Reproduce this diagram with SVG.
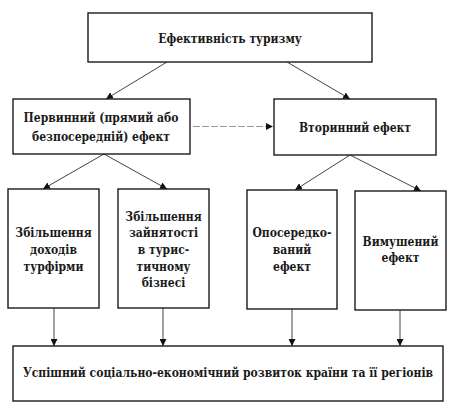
<svg xmlns="http://www.w3.org/2000/svg" width="452" height="414" viewBox="0 0 452 414">
<style>
.box{fill:#fff;stroke:#1a1a1a;stroke-width:1.4}
.t{font-family:"DejaVu Serif Condensed","DejaVu Serif",serif;font-stretch:condensed;font-weight:bold;font-size:12px;fill:#1a1a1a;text-anchor:middle}
.c{stroke:#444;stroke-width:1;fill:none;marker-end:url(#ah)}
.d{stroke:#999;stroke-width:1;fill:none;stroke-dasharray:7 2;marker-end:url(#ah)}
</style>
<defs>
<marker id="ah" viewBox="0 0 8 8" refX="8" refY="4" markerWidth="7" markerHeight="7" markerUnits="userSpaceOnUse" orient="auto">
<path d="M0,0 L8,4 L0,8 Z" fill="#111"/>
</marker>
</defs>
<rect width="452" height="414" fill="#fff"/>
<g id="connectors">
<line class="c" x1="167" y1="62" x2="106" y2="99"/>
<line class="c" x1="287" y1="62" x2="350" y2="99"/>
<line class="d" x1="193" y1="126.5" x2="273" y2="126.5"/>
<line class="c" x1="104" y1="154" x2="43" y2="189"/>
<line class="c" x1="104" y1="154" x2="167" y2="189"/>
<line class="c" x1="350" y1="155" x2="295" y2="190"/>
<line class="c" x1="350" y1="155" x2="421" y2="191"/>
<line class="c" x1="54" y1="308" x2="54" y2="346"/>
<line class="c" x1="163" y1="308" x2="163" y2="346"/>
<line class="c" x1="292" y1="309" x2="292" y2="346"/>
<line class="c" x1="400" y1="310" x2="400" y2="346"/>
</g>
<g id="n-top">
<rect class="box" x="88" y="13" width="284" height="49"/>
<text class="t" x="230" y="43">Ефективність туризму</text>
</g>
<g id="n-primary">
<rect class="box" x="13" y="99" width="177" height="55"/>
<text class="t" x="101" y="122">Первинний (прямий або</text>
<text class="t" x="101" y="141">безпосередній) ефект</text>
</g>
<g id="n-secondary">
<rect class="box" x="274" y="99" width="162" height="56"/>
<text class="t" x="355" y="132">Вторинний ефект</text>
</g>
<g id="n-income">
<rect class="box" x="8" y="189" width="91" height="119"/>
<text class="t" x="53.5" y="237">Збільшення</text>
<text class="t" x="53.5" y="254">доходів</text>
<text class="t" x="53.5" y="271">турфірми</text>
</g>
<g id="n-employment">
<rect class="box" x="118" y="189" width="91" height="119"/>
<text class="t" x="163.5" y="221">Збільшення</text>
<text class="t" x="163.5" y="237">зайнятості</text>
<text class="t" x="163.5" y="254">в турис-</text>
<text class="t" x="163.5" y="271">тичному</text>
<text class="t" x="163.5" y="287">бізнесі</text>
</g>
<g id="n-indirect">
<rect class="box" x="247" y="190" width="90" height="119"/>
<text class="t" x="292" y="237">Опосередко-</text>
<text class="t" x="292" y="254">ваний</text>
<text class="t" x="292" y="271">ефект</text>
</g>
<g id="n-forced">
<rect class="box" x="355" y="191" width="91" height="119"/>
<text class="t" x="400.5" y="246">Вимушений</text>
<text class="t" x="400.5" y="262">ефект</text>
</g>
<g id="n-bottom">
<rect class="box" x="13" y="346" width="430" height="55"/>
<text class="t" x="228" y="377">Успішний соціально-економічний розвиток країни та її регіонів</text>
</g>
</svg>
